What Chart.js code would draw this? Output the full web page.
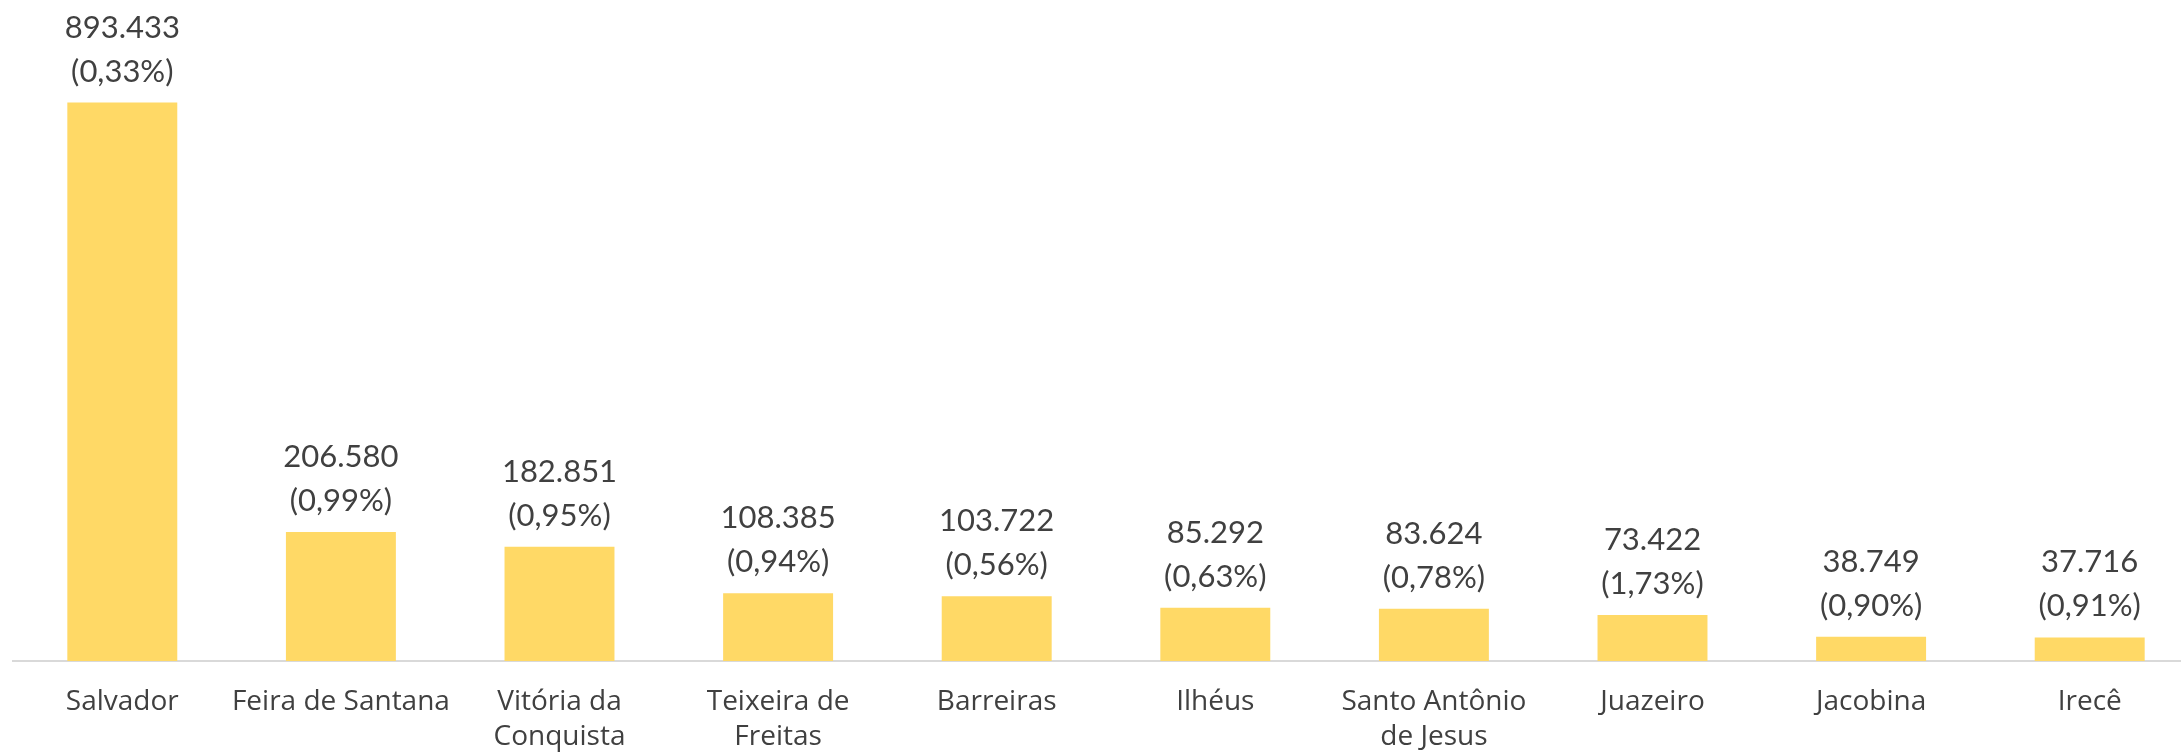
<!DOCTYPE html>
<html>
<head>
<meta charset="utf-8">
<script src="https://cdn.jsdelivr.net/npm/chart.js@4"></script>
<style>
  html, body { margin: 0; padding: 0; background: #fff; overflow: hidden; }
  #wrap { width: 2200px; height: 754px; }
</style>
</head>
<body>
<div id="wrap"><canvas id="grafico" width="2200" height="754"></canvas></div>
<script>
// municipios da Bahia
const municipios = [
  ['Salvador'], ['Feira de Santana'], ['Vitória da', 'Conquista'], ['Teixeira de', 'Freitas'],
  ['Barreiras'], ['Ilhéus'], ['Santo Antônio', 'de Jesus'], ['Juazeiro'], ['Jacobina'], ['Irecê']
];
const valores = [893433, 206580, 182851, 108385, 103722, 85292, 83624, 73422, 38749, 37716];
const percentuais = [0.33, 0.99, 0.95, 0.94, 0.56, 0.63, 0.78, 1.73, 0.90, 0.91];

const corBarra = '#FFD966';
const corTexto = '#404040';

function formatMilhar(n) {
  return String(n).replace(/\B(?=(\d{3})+(?!\d))/g, '.');
}
function formatPct(p) {
  return '(' + p.toFixed(2).replace('.', ',') + '%)';
}

// rotulos em cima das barras
const rotulos = {
  id: 'rotulos',
  afterDatasetsDraw(chart) {
    const ctx = chart.ctx;
    const meta = chart.getDatasetMeta(0);
    ctx.save();
    ctx.fillStyle = corTexto;
    ctx.font = '31px Lato, "Open Sans", sans-serif';
    ctx.textAlign = 'center';
    ctx.textBaseline = 'alphabetic';
    meta.data.forEach((bar, i) => {
      const y2 = bar.y - 21;
      ctx.fillText(formatPct(percentuais[i]), bar.x, y2);
      ctx.fillText(formatMilhar(valores[i]), bar.x, y2 - 44);
    });
    ctx.restore();
  }
};

new Chart(document.getElementById('grafico'), {
  type: 'bar',
  data: {
    labels: municipios,
    datasets: [{
      data: valores,
      backgroundColor: corBarra,
      categoryPercentage: 1,
      barPercentage: 0.503
    }]
  },
  options: {
    responsive: false,
    animation: false,
    devicePixelRatio: 1,
    layout: { padding: { top: 36, left: 13, right: 1, bottom: -25 } },
    plugins: { legend: { display: false }, tooltip: { enabled: false } },
    scales: {
      x: {
        grid: { display: false, drawTicks: false },
        border: { display: true, color: '#D9D9D9', width: 2 },
        ticks: {
          color: corTexto,
          font: { family: '"Open Sans", sans-serif', size: 28, lineHeight: 1.25 },
          padding: 24,
          autoSkip: false,
          maxRotation: 0
        }
      },
      y: {
        display: false,
        min: 0,
        max: 1000000
      }
    }
  },
  plugins: [rotulos]
});
</script>
</body>
</html>
